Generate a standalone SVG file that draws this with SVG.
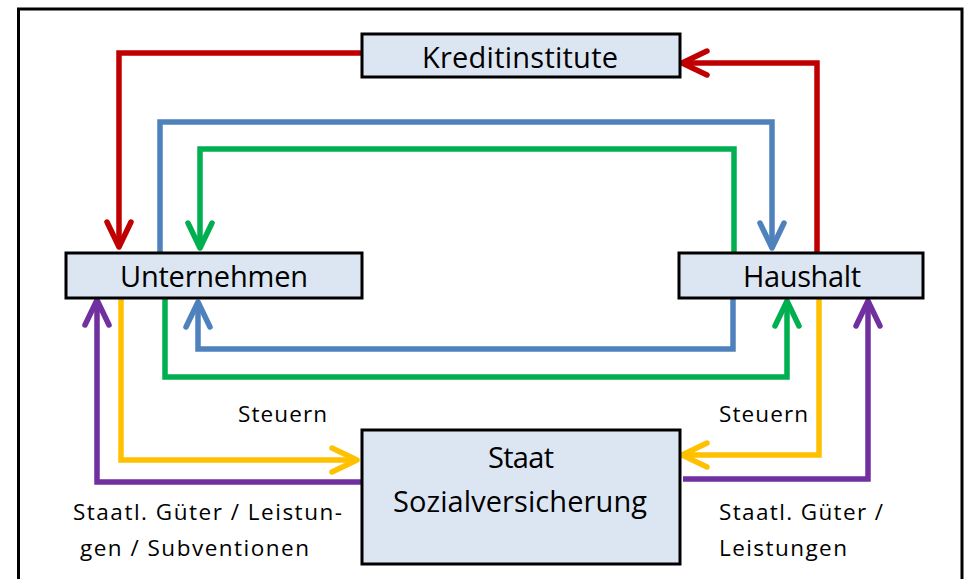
<svg xmlns="http://www.w3.org/2000/svg" width="965" height="579" viewBox="0 0 965 579">
  <style>
    .box { fill: #DCE6F2; stroke: #000; stroke-width: 3; }
    .node-text { font-family: "Open Sans", "Liberation Sans", sans-serif; font-size: 29px; fill: #000; }
    .label { font-family: "Open Sans", "Liberation Sans", sans-serif; font-size: 22.5px; fill: #000; }
    .flow { fill: none; stroke-width: 5.5; stroke-linejoin: miter; stroke-linecap: butt; }
    .red { stroke: #C00000; }
    .blue { stroke: #4F81BD; }
    .green { stroke: #00B050; }
    .yellow { stroke: #FFC000; }
    .purple { stroke: #7030A0; }
  </style>
  <defs>
    <marker id="arr-red" markerUnits="userSpaceOnUse" markerWidth="40" markerHeight="40" refX="0" refY="0" orient="auto" overflow="visible">
      <path d="M -25 -12 L 0 0 L -25 12" fill="none" stroke="#C00000" stroke-width="5.5" stroke-linecap="round" stroke-linejoin="round"/>
    </marker>
    <marker id="arr-blue" markerUnits="userSpaceOnUse" markerWidth="40" markerHeight="40" refX="0" refY="0" orient="auto" overflow="visible">
      <path d="M -25 -12 L 0 0 L -25 12" fill="none" stroke="#4F81BD" stroke-width="5.5" stroke-linecap="round" stroke-linejoin="round"/>
    </marker>
    <marker id="arr-green" markerUnits="userSpaceOnUse" markerWidth="40" markerHeight="40" refX="0" refY="0" orient="auto" overflow="visible">
      <path d="M -25 -12 L 0 0 L -25 12" fill="none" stroke="#00B050" stroke-width="5.5" stroke-linecap="round" stroke-linejoin="round"/>
    </marker>
    <marker id="arr-yellow" markerUnits="userSpaceOnUse" markerWidth="40" markerHeight="40" refX="0" refY="0" orient="auto" overflow="visible">
      <path d="M -25 -12 L 0 0 L -25 12" fill="none" stroke="#FFC000" stroke-width="5.5" stroke-linecap="round" stroke-linejoin="round"/>
    </marker>
    <marker id="arr-purple" markerUnits="userSpaceOnUse" markerWidth="40" markerHeight="40" refX="0" refY="0" orient="auto" overflow="visible">
      <path d="M -25 -12 L 0 0 L -25 12" fill="none" stroke="#7030A0" stroke-width="5.5" stroke-linecap="round" stroke-linejoin="round"/>
    </marker>
  </defs>

  <rect width="965" height="579" fill="#fff"/>
  <!-- outer frame, open at the bottom edge -->
  <path d="M 18.5 585 V 9 H 962 V 585" fill="none" stroke="#000" stroke-width="3"/>

  <g id="connectors">
    <!-- credit flows -->
    <path class="flow red" d="M 362 53 H 119 V 247" marker-end="url(#arr-red)"/>
    <path class="flow red" d="M 817 253 V 63 H 682" marker-end="url(#arr-red)"/>
    <!-- goods / income loops -->
    <path class="flow blue" d="M 160 253 V 122 H 772 V 248" marker-end="url(#arr-blue)"/>
    <path class="flow green" d="M 734 253 V 149 H 200 V 248" marker-end="url(#arr-green)"/>
    <path class="flow blue" d="M 733 298 V 349 H 198 V 302" marker-end="url(#arr-blue)"/>
    <path class="flow green" d="M 165 298 V 377 H 787 V 301" marker-end="url(#arr-green)"/>
    <!-- taxes -->
    <path class="flow yellow" d="M 121 298 V 460 H 357" marker-end="url(#arr-yellow)"/>
    <path class="flow yellow" d="M 819 298 V 455 H 682" marker-end="url(#arr-yellow)"/>
    <!-- public goods / transfers -->
    <path class="flow purple" d="M 362 482 H 97 V 300" marker-end="url(#arr-purple)"/>
    <path class="flow purple" d="M 683 479 H 868 V 301" marker-end="url(#arr-purple)"/>
  </g>

  <g id="kreditinstitute">
    <rect class="box" x="362" y="34" width="318" height="43"/>
    <text class="node-text" x="422" y="67.5" textLength="196" lengthAdjust="spacing">Kreditinstitute</text>
  </g>

  <g id="unternehmen">
    <rect class="box" x="66" y="253" width="296" height="45"/>
    <text class="node-text" x="120" y="287" textLength="188" lengthAdjust="spacing">Unternehmen</text>
  </g>

  <g id="haushalt">
    <rect class="box" x="679" y="253" width="244" height="45"/>
    <text class="node-text" x="743" y="287" textLength="118" lengthAdjust="spacing">Haushalt</text>
  </g>

  <g id="staat">
    <rect class="box" x="362" y="430" width="318" height="134"/>
    <text class="node-text" x="488" y="468" textLength="66" lengthAdjust="spacing">Staat</text>
    <text class="node-text" x="393" y="512" textLength="254" lengthAdjust="spacing">Sozialversicherung</text>
  </g>

  <g id="labels">
    <text class="label" x="238" y="422" textLength="89" lengthAdjust="spacing">Steuern</text>
    <text class="label" x="719" y="422" textLength="89" lengthAdjust="spacing">Steuern</text>
    <text class="label" x="73" y="520" textLength="269" lengthAdjust="spacing">Staatl. Güter / Leistun-</text>
    <text class="label" x="80" y="556" textLength="229" lengthAdjust="spacing">gen / Subventionen</text>
    <text class="label" x="719" y="520" textLength="164" lengthAdjust="spacing">Staatl. Güter /</text>
    <text class="label" x="719" y="556" textLength="128" lengthAdjust="spacing">Leistungen</text>
  </g>
</svg>
